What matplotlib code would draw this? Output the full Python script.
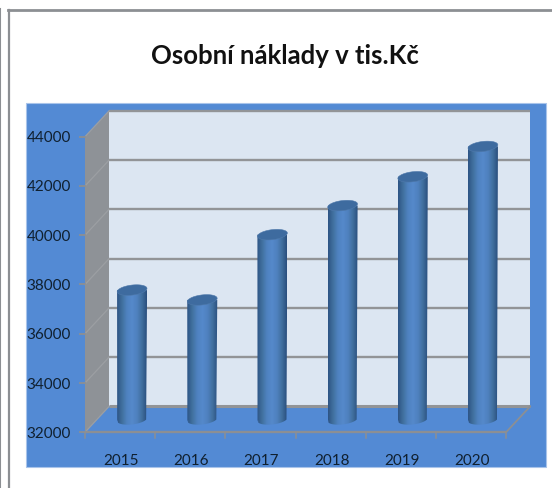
import numpy as np
import matplotlib
matplotlib.use('Agg')
import matplotlib.pyplot as plt
from matplotlib.patches import Polygon, Rectangle
from matplotlib.colors import LinearSegmentedColormap

years = ['2015', '2016', '2017', '2018', '2019', '2020']
naklady = [37250, 36850, 39500, 40680, 41850, 43080]
yticks = [32000, 34000, 36000, 38000, 40000, 42000, 44000]

W, H = 552, 488
# pixel layout of the fake 3d box
x0_px, x_step = 85.0, 70.17
y0_px, y_step = 432.3, 295.6 / 12000
depth_x, depth_y = 24.0, 25.8
bar_w = 30.0
FONT = ['Lato', 'DejaVu Sans']


def px_x(px):
    return (px - x0_px) / x_step - 0.5


def px_y(px):
    return 32000 + (y0_px - px) / y_step


# offsets in data units
dx = depth_x / x_step
dy = depth_y / y_step
GREY = '#8c8f93'

fig = plt.figure(figsize=(W / 100, H / 100), dpi=100)
ax = fig.add_axes([0, 0, 1, 1])
xlim = (px_x(0), px_x(W))
ylim = (px_y(H), px_y(0))
ax.axis('off')

# outer frame, open at right and bottom
ax.plot([px_x(9), px_x(9)], [px_y(10), px_y(H)], color=GREY, lw=1.6, zorder=0)
ax.plot([px_x(8), px_x(W)], [px_y(10), px_y(10)], color=GREY, lw=2, zorder=0)
ax.plot([px_x(0.3), px_x(0.3)], [px_y(9), px_y(H)], color=GREY, lw=1.5, zorder=0)

# blue panel
ax.add_patch(Rectangle((px_x(26), px_y(467)), px_x(545.5) - px_x(26), px_y(103.5) - px_y(467),
                       fc='#538ad4', ec='#a9c4ea', lw=0.8, zorder=1))

xl, xr = -0.5, 5.5
yb, yt = yticks[0], yticks[-1]

# back wall, side wall
ax.add_patch(Polygon([(xl + dx, yb + dy), (xr + dx, yb + dy), (xr + dx, yt + dy), (xl + dx, yt + dy)],
                     fc='#dce6f2', ec='none', zorder=2))
ax.add_patch(Polygon([(xl, yb), (xl + dx, yb + dy), (xl + dx, yt + dy), (xl, yt)],
                     fc='#8e9297', ec='none', zorder=2))

# gridlines
for v in yticks:
    lw = 2.2 if v == yb else 1.7
    ax.plot([xl + dx, xr + dx], [v + dy, v + dy], color='#929497', lw=lw, zorder=3, solid_capstyle='butt')
    ax.plot([xl, xl + dx], [v, v + dy], color='#9c9fa3', lw=0.9, zorder=3)
    ax.plot([xl - 5 / x_step, xl], [v, v], color=GREY, lw=1.3, zorder=3)
    ax.text(xl - 14 / x_step, v - 1.5 / y_step, str(v), ha='right', va='center', fontsize=11, color='#10202f',
            family=FONT, zorder=6)

# floor edges
ax.plot([xl, xr], [yb, yb], color=GREY, lw=1.7, zorder=3, solid_capstyle='butt')
ax.plot([xr, xr + dx], [yb, yb + dy], color=GREY, lw=1.3, zorder=3)
for i in range(len(years) + 1):
    ax.plot([xl + i, xl + i], [yb, yb - 6 / y_step], color=GREY, lw=1.1, zorder=3)
for i, year in enumerate(years):
    ax.text(i + 1 / x_step, yb - 28.5 / y_step, year, ha='center', va='center', fontsize=11, color='#10202f',
            family=FONT, zorder=6)

# cylinders
side = LinearSegmentedColormap.from_list('side', ['#2d5485', '#41719f', '#4f82c0', '#5589cb', '#4f81bf', '#41709f', '#2a4f7e'])
t = np.linspace(0, 2 * np.pi, 100)
tilt = np.radians(7)
a, b = bar_w / 2, 5.0
ex = a * np.cos(t) * np.cos(tilt) + b * np.sin(t) * np.sin(tilt)
ey = a * np.cos(t) * np.sin(tilt) - b * np.sin(t) * np.cos(tilt)
# ex, ey are in px; y up
for i, val in enumerate(naklady):
    cx = i + dx / 2
    base = yb + dy / 2
    top = val
    half = a / x_step
    low = ey < 0
    order = np.argsort(ex[low])
    lower_x = cx + ex[low][order] / x_step
    lower_y = base + ey[low][order] / y_step
    body = list(zip(lower_x, lower_y))
    body.append((cx + half, top + dy / 2))
    body.append((cx - half, top + dy / 2))
    poly = Polygon(body, fc='none', ec='none', zorder=4)
    ax.add_patch(poly)
    im = ax.imshow(np.linspace(0, 1, 64).reshape(1, -1), cmap=side, aspect='auto', zorder=4,
                   extent=(cx - half, cx + half, base - 8 / y_step, top + dy / 2))
    im.set_clip_path(poly)
    ax.add_patch(Polygon(list(zip(cx + ex / x_step, top + dy / 2 + ey / y_step)),
                         fc='#3e6b9f', ec='#4f79ab', lw=0.4, zorder=5))

ax.set_xlim(xlim)
ax.set_ylim(ylim)

ax.text(px_x(284.5), px_y(56), 'Osobní náklady v tis.Kč', ha='center', va='center', fontsize=18.5,
        fontweight='bold', color='#111111', family=FONT, zorder=6)

fig.savefig('out.png', dpi=100)
